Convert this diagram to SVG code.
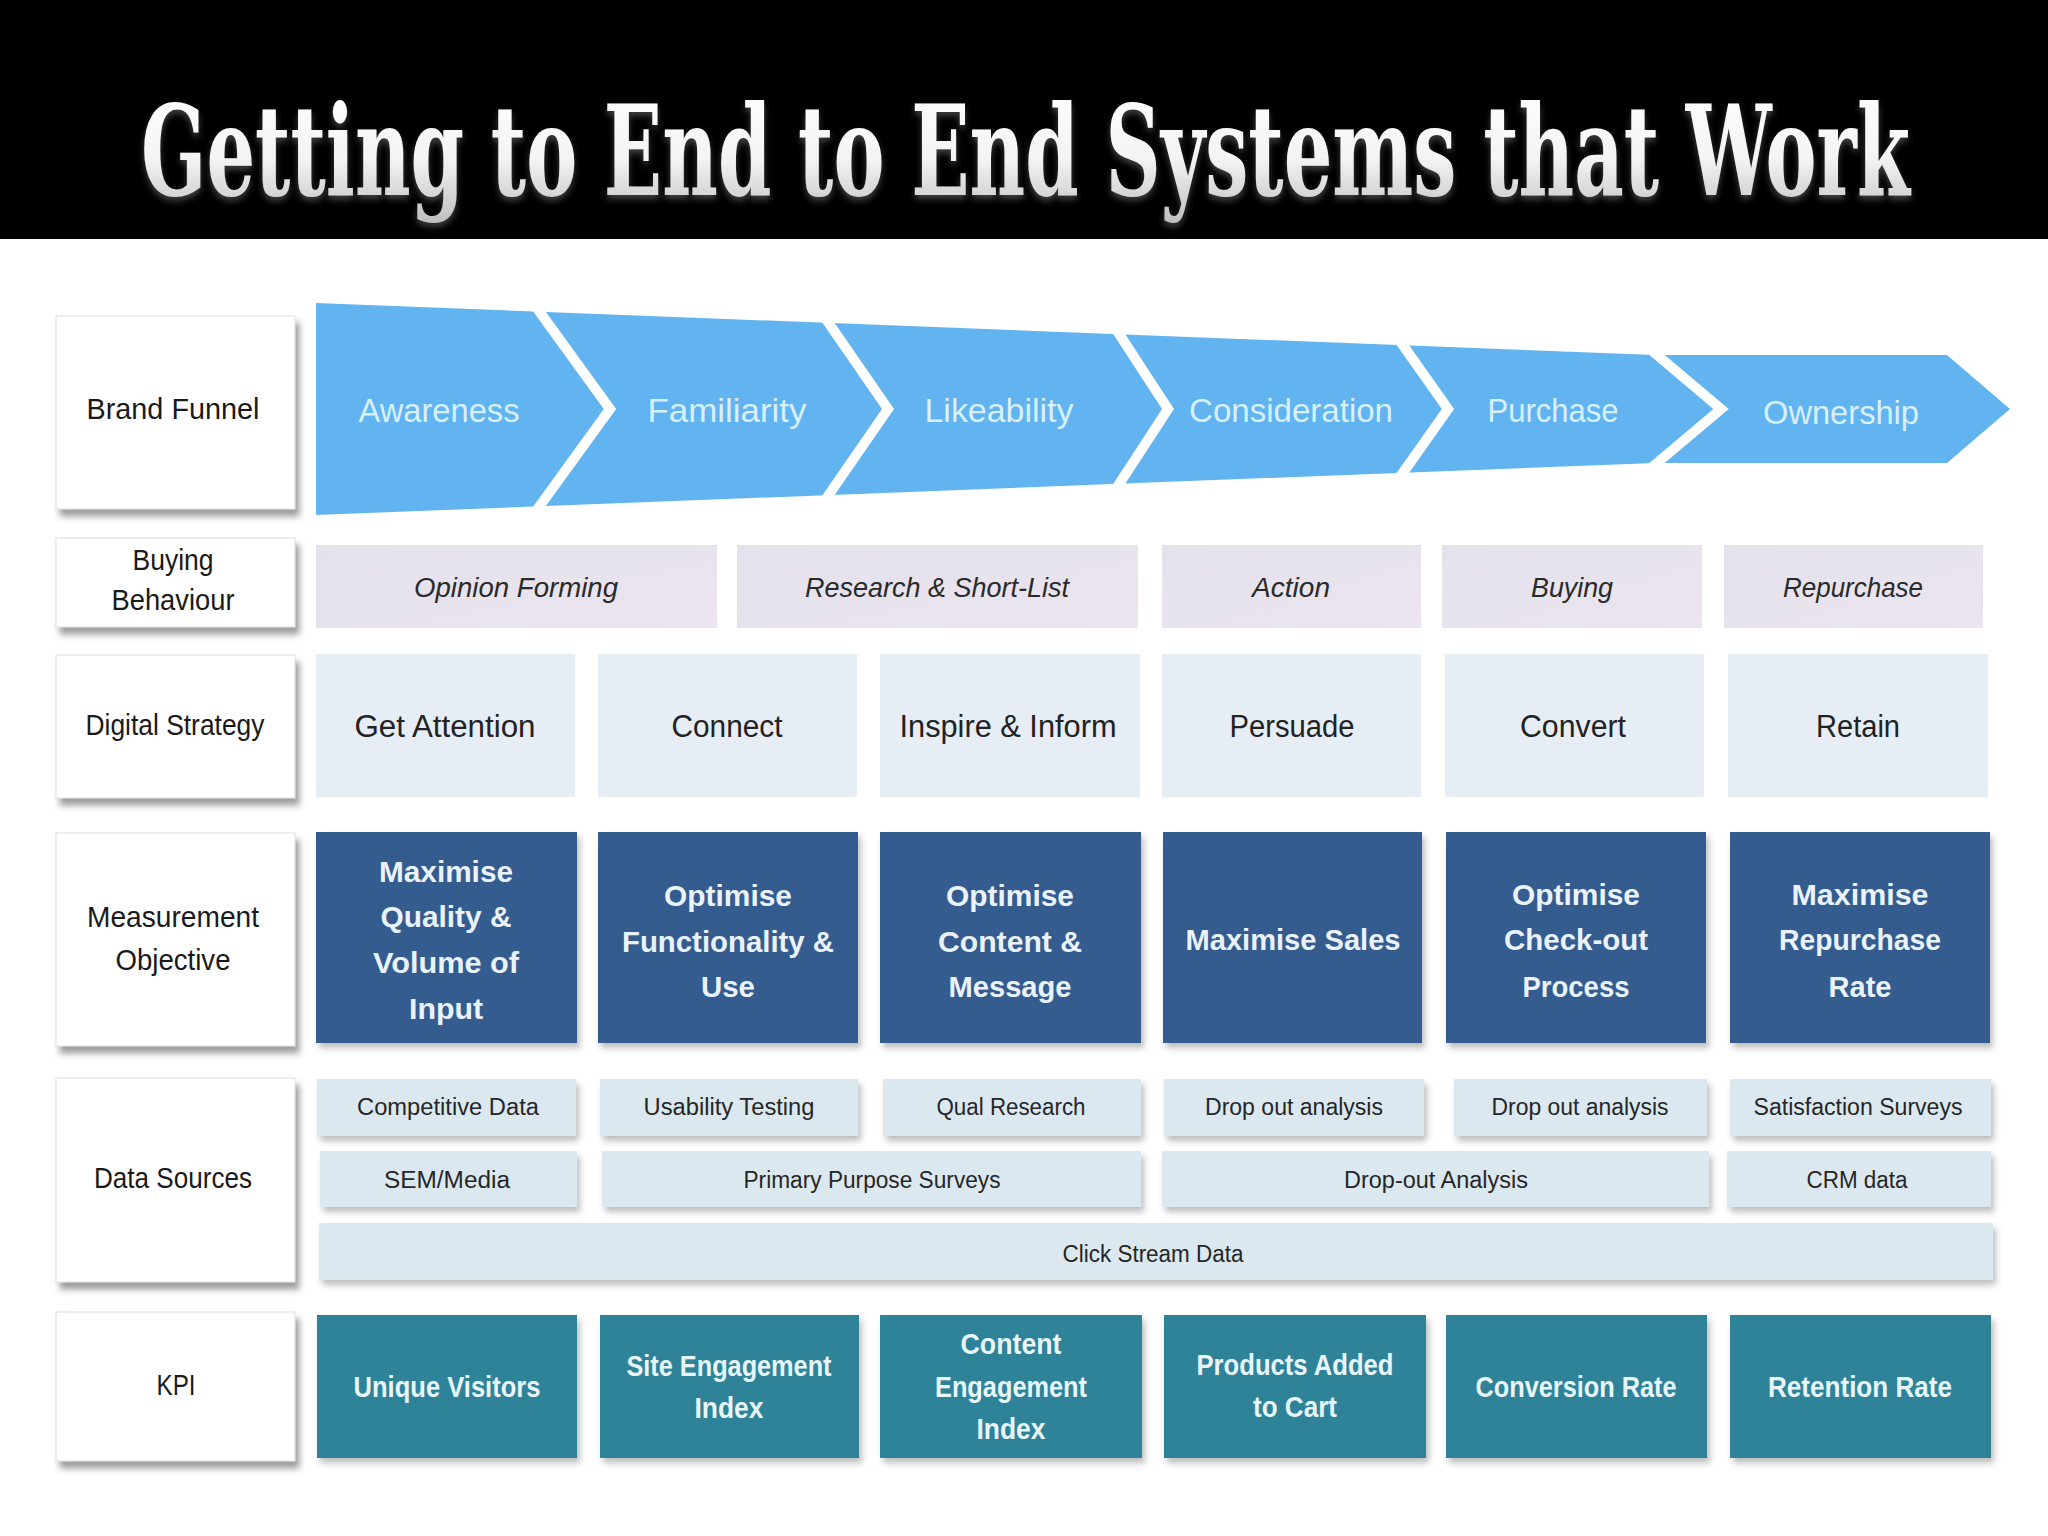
<svg xmlns="http://www.w3.org/2000/svg" width="2048" height="1536" viewBox="0 0 2048 1536">
<defs>
<linearGradient id="tg" x1="0" y1="0" x2="0" y2="1">
<stop offset="0" stop-color="#ffffff"/>
<stop offset="0.55" stop-color="#f4f4f4"/>
<stop offset="1" stop-color="#bdbdbd"/>
</linearGradient>
<linearGradient id="bbg" x1="0" y1="0" x2="1" y2="1">
<stop offset="0" stop-color="#e3e2ec"/>
<stop offset="1" stop-color="#ece4ef"/>
</linearGradient>
<filter id="sh" x="-5%" y="-10%" width="115%" height="130%">
<feDropShadow dx="4" dy="7" stdDeviation="3" flood-color="#6a6a6a" flood-opacity="0.65"/>
</filter>
<filter id="shl" x="-5%" y="-10%" width="115%" height="130%">
<feDropShadow dx="3" dy="5" stdDeviation="3" flood-color="#707070" flood-opacity="0.45"/>
</filter>
<filter id="tsh" filterUnits="userSpaceOnUse" x="100" y="40" width="1850" height="195">
<feDropShadow dx="0" dy="4" stdDeviation="3" flood-color="#808080" flood-opacity="0.5"/>
</filter>
</defs>
<style>
.lbl{fill:#ffffff;stroke:#dedede;stroke-width:1;filter:url(#sh)}
.lt{font-family:"Liberation Sans",Arial,sans-serif;font-size:29px;fill:#1a1a1a;text-anchor:middle}
.fn{font-family:"Liberation Sans",Arial,sans-serif;font-size:33px;fill:#d8effc;text-anchor:middle}
.bb{fill:url(#bbg)}
.bt{font-family:"Liberation Sans",Arial,sans-serif;font-size:28px;font-style:italic;fill:#2a2a2a;text-anchor:middle}
.ds{fill:#e6edf5}
.dt{font-family:"Liberation Sans",Arial,sans-serif;font-size:31px;fill:#222222;text-anchor:middle}
.mo{fill:#355b8f;filter:url(#shl)}
.mt{font-family:"Liberation Sans",Arial,sans-serif;font-size:30px;font-weight:bold;fill:#eaf2fb;text-anchor:middle}
.da{fill:#dce8f0;filter:url(#shl)}
.dat{font-family:"Liberation Sans",Arial,sans-serif;font-size:23px;fill:#262626;text-anchor:middle}
.kp{fill:#2e8399;filter:url(#shl)}
.kt{font-family:"Liberation Sans",Arial,sans-serif;font-size:29px;font-weight:bold;fill:#e8f5f9;text-anchor:middle}
.chev{fill:none;stroke:#ffffff;stroke-width:10;stroke-linejoin:miter}
</style>
<rect x="0" y="0" width="2048" height="1536" fill="#ffffff"/>
<g id="title">
<rect x="0" y="0" width="2048" height="239" fill="#000000"/>
<g filter="url(#tsh)">
<text transform="translate(141,195) scale(1,1.8)" x="0" y="0" font-family="'DejaVu Serif','Liberation Serif',serif" font-weight="bold" font-size="70" fill="url(#tg)" textLength="1769" lengthAdjust="spacingAndGlyphs">Getting to End to End Systems that Work</text>
</g>
</g>

<g id="row-labels">
<g id="label-brand-funnel"><rect class="lbl" x="56" y="316" width="239" height="193"/><text class="lt" x="173" y="419" textLength="173" lengthAdjust="spacingAndGlyphs">Brand Funnel</text></g>
<g id="label-buying-behaviour"><rect class="lbl" x="56" y="538" width="239" height="89"/><text class="lt" x="173" y="570" textLength="81" lengthAdjust="spacingAndGlyphs">Buying</text><text class="lt" x="173" y="610" textLength="123" lengthAdjust="spacingAndGlyphs">Behaviour</text></g>
<g id="label-digital-strategy"><rect class="lbl" x="56" y="655" width="239" height="143"/><text class="lt" x="175" y="735" textLength="179" lengthAdjust="spacingAndGlyphs">Digital Strategy</text></g>
<g id="label-measurement-objective"><rect class="lbl" x="56" y="833" width="239" height="213"/><text class="lt" x="173" y="927" textLength="172" lengthAdjust="spacingAndGlyphs">Measurement</text><text class="lt" x="173" y="970" textLength="115" lengthAdjust="spacingAndGlyphs">Objective</text></g>
<g id="label-data-sources"><rect class="lbl" x="56" y="1078" width="239" height="204"/><text class="lt" x="173" y="1188" textLength="158" lengthAdjust="spacingAndGlyphs">Data Sources</text></g>
<g id="label-kpi"><rect class="lbl" x="56" y="1312" width="239" height="149"/><text class="lt" x="176" y="1395" textLength="39" lengthAdjust="spacingAndGlyphs">KPI</text></g>
</g>

<g id="brand-funnel">
<polygon points="316,303 1655,355 1947,355 2010,409 1947,463 1655,463 316,515" fill="#61b4f0"/>
<polyline class="chev" points="531,300 610,409 531,518"/>
<polyline class="chev" points="821,312 888,409 821,506"/>
<polyline class="chev" points="1112,323 1168,409 1112,495"/>
<polyline class="chev" points="1395,334 1448,409 1395,484"/>
<polyline class="chev" points="1644,344 1721,409 1644,474"/>
<g id="funnel-awareness"><text class="fn" x="439" y="422" textLength="161" lengthAdjust="spacingAndGlyphs">Awareness</text></g>
<g id="funnel-familiarity"><text class="fn" x="727" y="422" textLength="159" lengthAdjust="spacingAndGlyphs">Familiarity</text></g>
<g id="funnel-likeability"><text class="fn" x="999" y="422" textLength="149" lengthAdjust="spacingAndGlyphs">Likeability</text></g>
<g id="funnel-consideration"><text class="fn" x="1291" y="422" textLength="204" lengthAdjust="spacingAndGlyphs">Consideration</text></g>
<g id="funnel-purchase"><text class="fn" x="1553" y="422" textLength="131" lengthAdjust="spacingAndGlyphs">Purchase</text></g>
<g id="funnel-ownership"><text class="fn" x="1841" y="424" textLength="156" lengthAdjust="spacingAndGlyphs">Ownership</text></g>
</g>

<g id="buying-behaviour">
<g id="bb-opinion-forming"><rect class="bb" x="316" y="545" width="401" height="83"/><text class="bt" x="516" y="597" textLength="204" lengthAdjust="spacingAndGlyphs">Opinion Forming</text></g>
<g id="bb-research"><rect class="bb" x="737" y="545" width="401" height="83"/><text class="bt" x="937" y="597" textLength="264" lengthAdjust="spacingAndGlyphs">Research &amp; Short-List</text></g>
<g id="bb-action"><rect class="bb" x="1162" y="545" width="259" height="83"/><text class="bt" x="1291" y="597" textLength="78" lengthAdjust="spacingAndGlyphs">Action</text></g>
<g id="bb-buying"><rect class="bb" x="1442" y="545" width="260" height="83"/><text class="bt" x="1572" y="597" textLength="82" lengthAdjust="spacingAndGlyphs">Buying</text></g>
<g id="bb-repurchase"><rect class="bb" x="1724" y="545" width="259" height="83"/><text class="bt" x="1853" y="597" textLength="140" lengthAdjust="spacingAndGlyphs">Repurchase</text></g>
</g>

<g id="digital-strategy">
<g id="ds-get-attention"><rect class="ds" x="316" y="654" width="259" height="143"/><text class="dt" x="445" y="737" textLength="181" lengthAdjust="spacingAndGlyphs">Get Attention</text></g>
<g id="ds-connect"><rect class="ds" x="598" y="654" width="259" height="143"/><text class="dt" x="727" y="737" textLength="111" lengthAdjust="spacingAndGlyphs">Connect</text></g>
<g id="ds-inspire"><rect class="ds" x="880" y="654" width="260" height="143"/><text class="dt" x="1008" y="737" textLength="217" lengthAdjust="spacingAndGlyphs">Inspire &amp; Inform</text></g>
<g id="ds-persuade"><rect class="ds" x="1162" y="654" width="259" height="143"/><text class="dt" x="1292" y="737" textLength="125" lengthAdjust="spacingAndGlyphs">Persuade</text></g>
<g id="ds-convert"><rect class="ds" x="1445" y="654" width="259" height="143"/><text class="dt" x="1573" y="737" textLength="106" lengthAdjust="spacingAndGlyphs">Convert</text></g>
<g id="ds-retain"><rect class="ds" x="1728" y="654" width="260" height="143"/><text class="dt" x="1858" y="737" textLength="84" lengthAdjust="spacingAndGlyphs">Retain</text></g>
</g>

<g id="measurement-objective">
<g id="mo-1"><rect class="mo" x="316" y="832" width="261" height="211"/>
<text class="mt" x="446" y="882" textLength="134" lengthAdjust="spacingAndGlyphs">Maximise</text>
<text class="mt" x="446" y="927" textLength="131" lengthAdjust="spacingAndGlyphs">Quality &amp;</text>
<text class="mt" x="446" y="973" textLength="146" lengthAdjust="spacingAndGlyphs">Volume of</text>
<text class="mt" x="446" y="1019" textLength="74" lengthAdjust="spacingAndGlyphs">Input</text></g>
<g id="mo-2"><rect class="mo" x="598" y="832" width="260" height="211"/>
<text class="mt" x="728" y="906" textLength="128" lengthAdjust="spacingAndGlyphs">Optimise</text>
<text class="mt" x="728" y="952" textLength="212" lengthAdjust="spacingAndGlyphs">Functionality &amp;</text>
<text class="mt" x="728" y="997" textLength="54" lengthAdjust="spacingAndGlyphs">Use</text></g>
<g id="mo-3"><rect class="mo" x="880" y="832" width="261" height="211"/>
<text class="mt" x="1010" y="906" textLength="128" lengthAdjust="spacingAndGlyphs">Optimise</text>
<text class="mt" x="1010" y="952" textLength="144" lengthAdjust="spacingAndGlyphs">Content &amp;</text>
<text class="mt" x="1010" y="997" textLength="123" lengthAdjust="spacingAndGlyphs">Message</text></g>
<g id="mo-4"><rect class="mo" x="1163" y="832" width="259" height="211"/>
<text class="mt" x="1293" y="950" textLength="215" lengthAdjust="spacingAndGlyphs">Maximise Sales</text></g>
<g id="mo-5"><rect class="mo" x="1446" y="832" width="260" height="211"/>
<text class="mt" x="1576" y="905" textLength="128" lengthAdjust="spacingAndGlyphs">Optimise</text>
<text class="mt" x="1576" y="950" textLength="144" lengthAdjust="spacingAndGlyphs">Check-out</text>
<text class="mt" x="1576" y="997" textLength="107" lengthAdjust="spacingAndGlyphs">Process</text></g>
<g id="mo-6"><rect class="mo" x="1730" y="832" width="260" height="211"/>
<text class="mt" x="1860" y="905" textLength="137" lengthAdjust="spacingAndGlyphs">Maximise</text>
<text class="mt" x="1860" y="950" textLength="162" lengthAdjust="spacingAndGlyphs">Repurchase</text>
<text class="mt" x="1860" y="997" textLength="63" lengthAdjust="spacingAndGlyphs">Rate</text></g>
</g>

<g id="data-sources">
<g id="da-competitive"><rect class="da" x="317" y="1079" width="259" height="57"/><text class="dat" x="448" y="1115" textLength="182" lengthAdjust="spacingAndGlyphs">Competitive Data</text></g>
<g id="da-usability"><rect class="da" x="600" y="1079" width="258" height="57"/><text class="dat" x="729" y="1115" textLength="171" lengthAdjust="spacingAndGlyphs">Usability Testing</text></g>
<g id="da-qual"><rect class="da" x="883" y="1079" width="258" height="57"/><text class="dat" x="1011" y="1115" textLength="149" lengthAdjust="spacingAndGlyphs">Qual Research</text></g>
<g id="da-dropout-1"><rect class="da" x="1164" y="1079" width="260" height="57"/><text class="dat" x="1294" y="1115" textLength="178" lengthAdjust="spacingAndGlyphs">Drop out analysis</text></g>
<g id="da-dropout-2"><rect class="da" x="1454" y="1079" width="253" height="57"/><text class="dat" x="1580" y="1115" textLength="177" lengthAdjust="spacingAndGlyphs">Drop out analysis</text></g>
<g id="da-satisfaction"><rect class="da" x="1730" y="1079" width="261" height="57"/><text class="dat" x="1858" y="1115" textLength="209" lengthAdjust="spacingAndGlyphs">Satisfaction Surveys</text></g>
<g id="da-sem"><rect class="da" x="320" y="1151" width="257" height="56"/><text class="dat" x="447" y="1188" textLength="126" lengthAdjust="spacingAndGlyphs">SEM/Media</text></g>
<g id="da-primary"><rect class="da" x="602" y="1151" width="539" height="56"/><text class="dat" x="872" y="1188" textLength="257" lengthAdjust="spacingAndGlyphs">Primary Purpose Surveys</text></g>
<g id="da-dropout-analysis"><rect class="da" x="1162" y="1151" width="547" height="56"/><text class="dat" x="1436" y="1188" textLength="184" lengthAdjust="spacingAndGlyphs">Drop-out Analysis</text></g>
<g id="da-crm"><rect class="da" x="1727" y="1151" width="264" height="56"/><text class="dat" x="1857" y="1188" textLength="101" lengthAdjust="spacingAndGlyphs">CRM data</text></g>
<g id="da-clickstream"><rect class="da" x="319" y="1223" width="1674" height="57"/><text class="dat" x="1153" y="1262" textLength="181" lengthAdjust="spacingAndGlyphs">Click Stream Data</text></g>
</g>

<g id="kpi">
<g id="kpi-1"><rect class="kp" x="317" y="1315" width="260" height="143"/><text class="kt" x="447" y="1397" textLength="187" lengthAdjust="spacingAndGlyphs">Unique Visitors</text></g>
<g id="kpi-2"><rect class="kp" x="600" y="1315" width="259" height="143"/><text class="kt" x="729" y="1376" textLength="205" lengthAdjust="spacingAndGlyphs">Site Engagement</text><text class="kt" x="729" y="1418" textLength="69" lengthAdjust="spacingAndGlyphs">Index</text></g>
<g id="kpi-3"><rect class="kp" x="880" y="1315" width="262" height="143"/><text class="kt" x="1011" y="1354" textLength="101" lengthAdjust="spacingAndGlyphs">Content</text><text class="kt" x="1011" y="1397" textLength="152" lengthAdjust="spacingAndGlyphs">Engagement</text><text class="kt" x="1011" y="1439" textLength="69" lengthAdjust="spacingAndGlyphs">Index</text></g>
<g id="kpi-4"><rect class="kp" x="1164" y="1315" width="262" height="143"/><text class="kt" x="1295" y="1375" textLength="197" lengthAdjust="spacingAndGlyphs">Products Added</text><text class="kt" x="1295" y="1417" textLength="84" lengthAdjust="spacingAndGlyphs">to Cart</text></g>
<g id="kpi-5"><rect class="kp" x="1446" y="1315" width="261" height="143"/><text class="kt" x="1576" y="1397" textLength="201" lengthAdjust="spacingAndGlyphs">Conversion Rate</text></g>
<g id="kpi-6"><rect class="kp" x="1730" y="1315" width="261" height="143"/><text class="kt" x="1860" y="1397" textLength="184" lengthAdjust="spacingAndGlyphs">Retention Rate</text></g>
</g>
</svg>
